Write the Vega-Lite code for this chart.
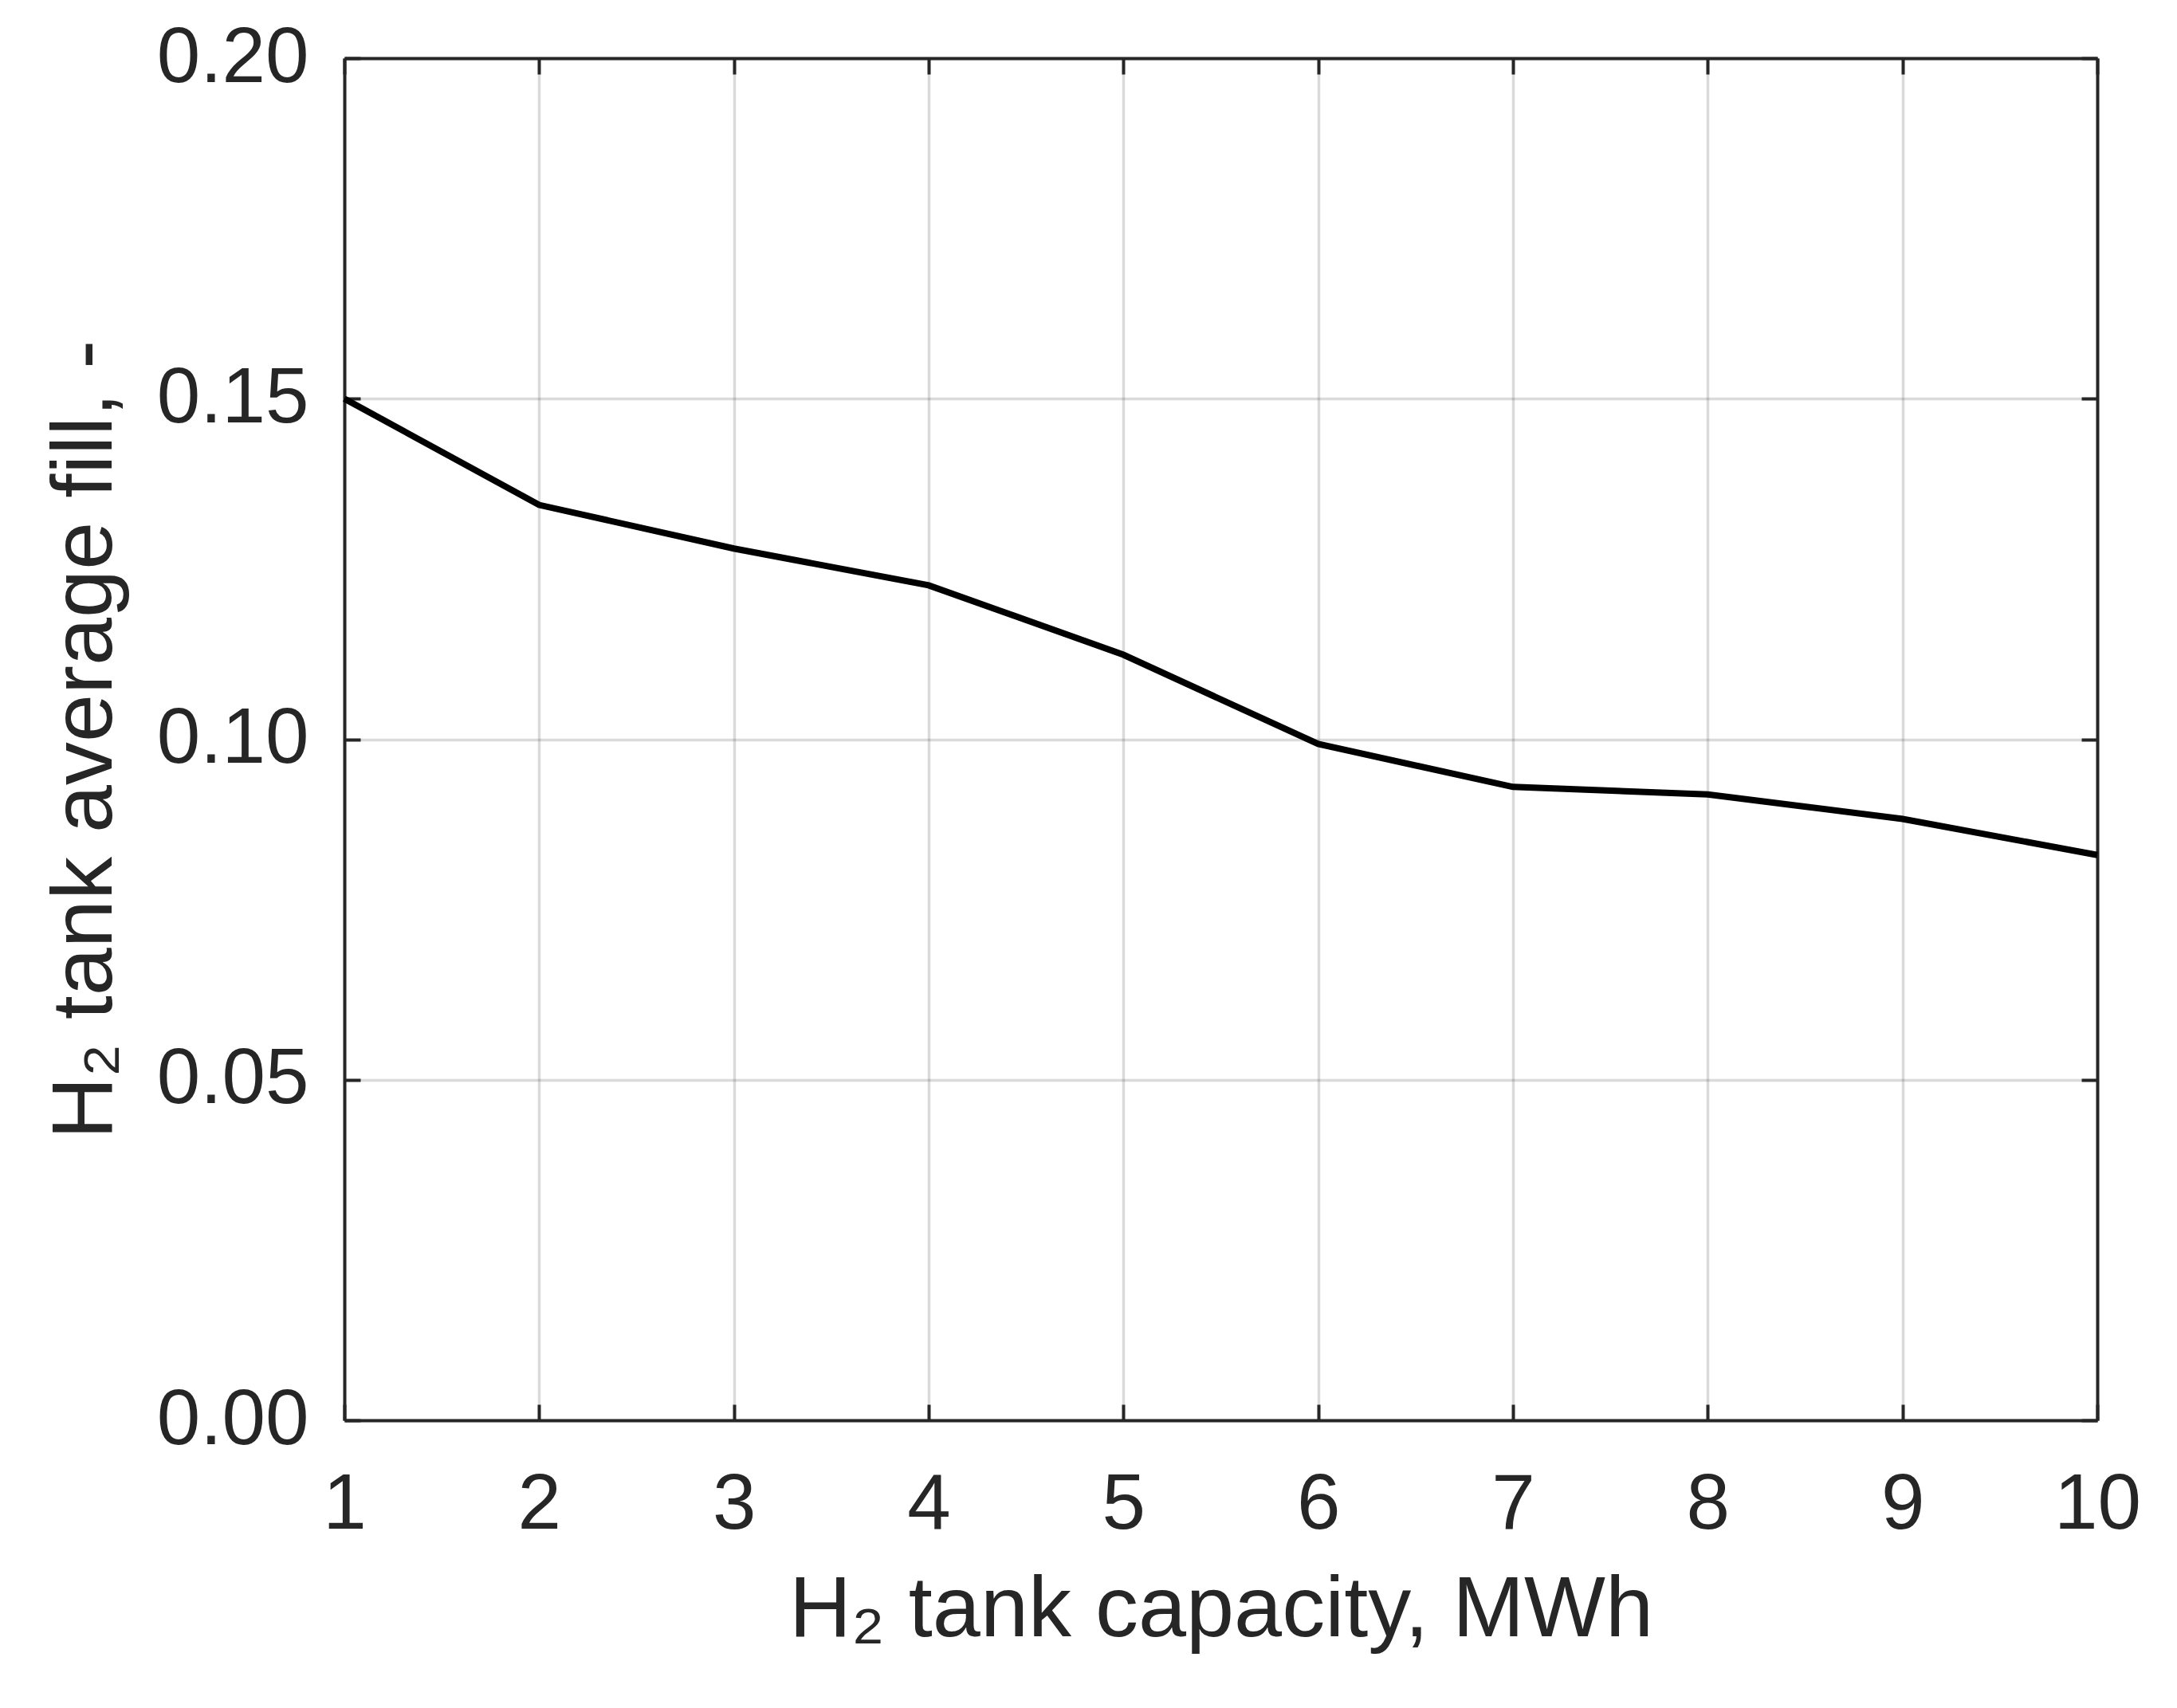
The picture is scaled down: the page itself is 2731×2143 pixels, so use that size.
{
  "$schema": "https://vega.github.io/schema/vega-lite/v6.json",
  "autosize": {"type": "none"},
  "padding": {"left": 432, "top": 73, "right": 100, "bottom": 361},
  "width": 2199,
  "height": 1709,
  "background": "white",
  "data": {
    "values": [
      {"capacity": 1, "fill": 0.1500},
      {"capacity": 2, "fill": 0.1344},
      {"capacity": 3, "fill": 0.1280},
      {"capacity": 4, "fill": 0.1226},
      {"capacity": 5, "fill": 0.1124},
      {"capacity": 6, "fill": 0.0993},
      {"capacity": 7, "fill": 0.0930},
      {"capacity": 8, "fill": 0.0919},
      {"capacity": 9, "fill": 0.0883},
      {"capacity": 10, "fill": 0.0830}
    ]
  },
  "layer": [
    {
      "mark": {"type": "line", "color": "black", "strokeWidth": 8},
      "encoding": {
        "x": {
          "field": "capacity", "type": "quantitative",
          "scale": {"domain": [1, 10], "nice": false, "zero": false},
          "axis": {
            "orient": "bottom",
            "values": [1, 2, 3, 4, 5, 6, 7, 8, 9, 10],
            "title": "H₂ tank capacity, MWh",
            "grid": true,
            "labelPadding": 78,
            "titlePadding": 30
          }
        },
        "y": {
          "field": "fill", "type": "quantitative",
          "scale": {"domain": [0, 0.2], "nice": false},
          "axis": {
            "orient": "left",
            "values": [0, 0.05, 0.1, 0.15, 0.2],
            "format": ".2f",
            "title": "H₂ tank average fill, -",
            "grid": true,
            "labelPadding": 65,
            "titlePadding": 70
          }
        }
      }
    },
    {
      "mark": {"type": "line", "opacity": 0},
      "encoding": {
        "x": {
          "field": "capacity", "type": "quantitative",
          "axis": {"orient": "top", "values": [1, 2, 3, 4, 5, 6, 7, 8, 9, 10], "labels": false, "title": null, "grid": false}
        },
        "y": {
          "field": "fill", "type": "quantitative",
          "axis": {"orient": "right", "values": [0, 0.05, 0.1, 0.15, 0.2], "labels": false, "title": null, "grid": false}
        }
      }
    }
  ],
  "resolve": {"axis": {"x": "independent", "y": "independent"}},
  "config": {
    "view": {"stroke": null},
    "font": "Liberation Sans",
    "axis": {
      "domainColor": "#262626",
      "domainWidth": 4,
      "tickColor": "#262626",
      "tickWidth": 4,
      "tickSize": -20,
      "gridColor": "#262626",
      "gridOpacity": 0.17,
      "gridWidth": 3.5,
      "labelFont": "Liberation Sans",
      "labelFontSize": 98,
      "labelColor": "#262626",
      "labelFlush": false,
      "labelOverlap": false,
      "labelLimit": 0,
      "titleFont": "Liberation Sans",
      "titleFontSize": 108,
      "titleFontWeight": "normal",
      "titleColor": "#262626",
      "titleLimit": 0
    }
  }
}
